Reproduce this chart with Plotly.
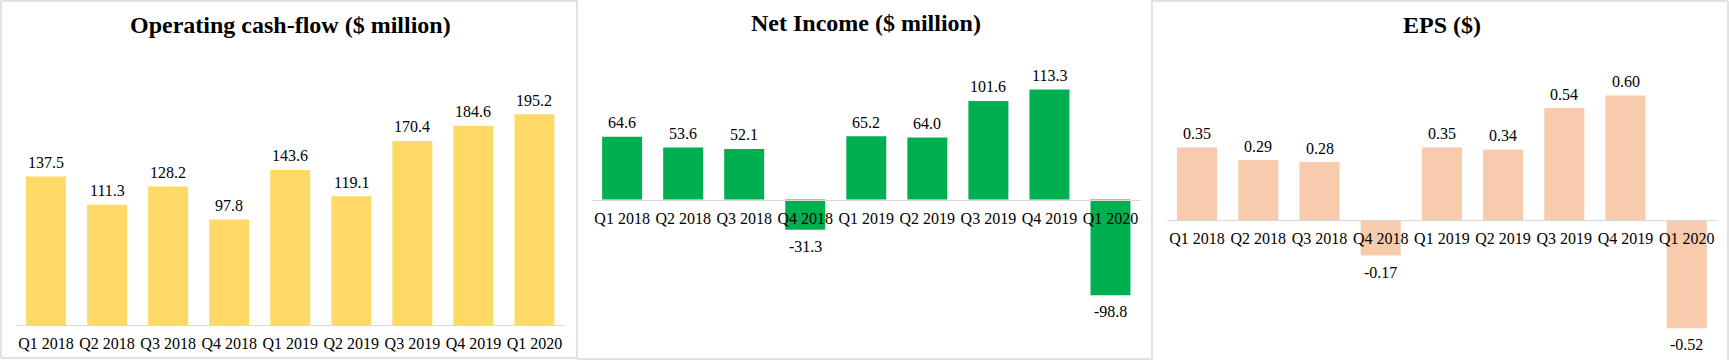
import plotly.graph_objects as go

W, H = 1729, 360

quarters = ["Q1 2018", "Q2 2018", "Q3 2018", "Q4 2018", "Q1 2019",
            "Q2 2019", "Q3 2019", "Q4 2019", "Q1 2020"]
cash_flow = [137.5, 111.3, 128.2, 97.8, 143.6, 119.1, 170.4, 184.6, 195.2]
net_income = [64.6, 53.6, 52.1, -31.3, 65.2, 64.0, 101.6, 113.3, -98.8]
eps = [0.35, 0.29, 0.28, -0.17, 0.35, 0.34, 0.54, 0.60, -0.52]

titles = ["Operating cash-flow ($ million)", "Net Income ($ million)", "EPS ($)"]
colors = ["#FFD966", "#00B050", "#F8CBAD"]
series = [cash_flow, net_income, eps]
fmts = ["{:.1f}", "{:.1f}", "{:.2f}"]
yranges = [[0, 250], [-150, 150], [-0.6, 0.8]]

# pixel geometry (left, right, top, bottom) of each plot area
px_x = [(15.5, 565.0), (591.6, 1141.0), (1166.5, 1717.3)]
px_y = [(55.0, 325.0), (54.0, 345.0), (54.0, 345.0)]
title_pos = [(290, 25), (866, 23), (1442, 25)]

FONT = "Liberation Serif, Times New Roman, serif"

fig = go.Figure()
layout = dict(
    width=W, height=H, margin=dict(l=0, r=0, t=0, b=0),
    paper_bgcolor="white", plot_bgcolor="rgba(0,0,0,0)",
    showlegend=False, bargap=0.345,
    font=dict(family=FONT, size=16, color="black"),
    annotations=[], shapes=[],
)

for i in range(3):
    n = "" if i == 0 else str(i + 1)
    vals = series[i]
    fig.add_trace(go.Bar(
        x=quarters, y=vals, marker=dict(color=colors[i], line=dict(width=0)),
        cliponaxis=False, xaxis="x" + n, yaxis="y" + n, hoverinfo="skip",
    ))
    for q, v in zip(quarters, vals):
        layout["annotations"].append(dict(
            text=fmts[i].format(v), xref="x" + n, yref="y" + n, x=q, y=v,
            xanchor="center", yanchor="middle", showarrow=False,
            yshift=14 if v >= 0 else -16.5,
            font=dict(family=FONT, size=16, color="black"),
        ))
    xd = [px_x[i][0] / W, px_x[i][1] / W]
    yd = [1 - px_y[i][1] / H, 1 - px_y[i][0] / H]
    r0, r1 = yranges[i]
    zero_pos = yd[0] + (0 - r0) / (r1 - r0) * (yd[1] - yd[0])
    layout["xaxis" + n] = dict(
        domain=xd, range=[-0.5, 8.5], type="category",
        anchor="free", position=zero_pos,
        showline=True, linecolor="#D9D9D9", linewidth=1,
        showgrid=False, zeroline=False, ticks="",
        tickfont=dict(family=FONT, size=16, color="black"),
        ticklabelstandoff=4, fixedrange=True,
    )
    layout["yaxis" + n] = dict(
        domain=yd, range=yranges[i], visible=False, showgrid=False,
        zeroline=False, fixedrange=True,
    )
    tx, ty = title_pos[i]
    layout["annotations"].append(dict(
        text="<b>" + titles[i] + "</b>", xref="paper", yref="paper",
        x=tx / W, y=1 - ty / H, xanchor="center", yanchor="middle",
        showarrow=False, font=dict(family=FONT, size=24, color="black"),
    ))

# panel borders
border = "#D9D9D9"
def seg(x0, y0, x1, y1):
    return dict(type="line", xref="paper", yref="paper",
                x0=x0 / W, y0=1 - y0 / H, x1=x1 / W, y1=1 - y1 / H,
                line=dict(color=border, width=1.5))

layout["shapes"] += [
    seg(1, 1, 577, 1), seg(1, 1, 1, 358), seg(1, 358, 577, 358), seg(577, 0, 577, 359),
    seg(577, 359, 1152, 359), seg(1152, 0, 1152, 359),
    seg(1152, 1, 1728, 1), seg(1728, 1, 1728, 360),
]

fig.update_layout(**layout)
fig.write_html("out.html", config={"displayModeBar": False},
               post_script="document.body.style.margin='0';")
